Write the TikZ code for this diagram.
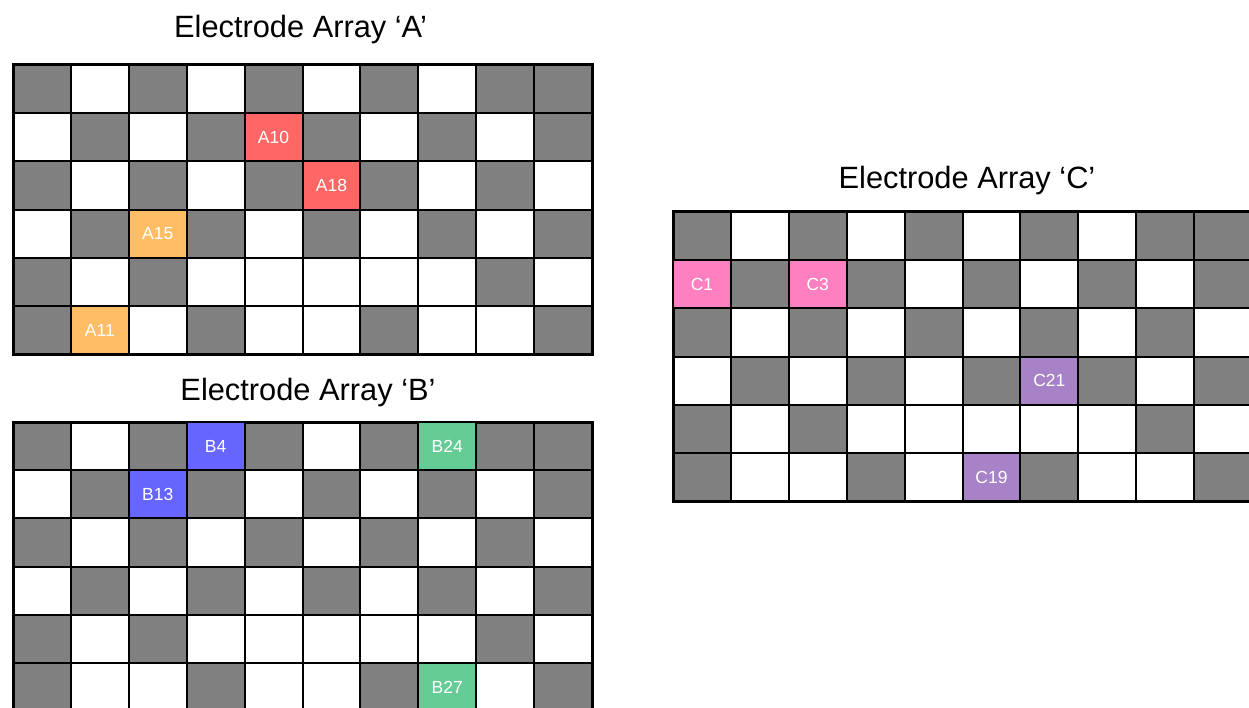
\documentclass[tikz,border=0pt]{standalone}
\usepackage{fontspec}
\setmainfont{Liberation Sans}
\usepackage{xcolor}
\usetikzlibrary{math}
\definecolor{G}{RGB}{128,128,128}
\definecolor{W}{RGB}{255,255,255}
\definecolor{myred}{RGB}{255,102,102}
\definecolor{myorange}{RGB}{255,190,102}
\definecolor{myblue}{RGB}{102,102,255}
\definecolor{mygreen}{RGB}{102,204,150}
\definecolor{mypink}{RGB}{255,128,192}
\definecolor{mypurple}{RGB}{168,130,198}

\tikzset{
  title/.style={anchor=base, font=\fontsize{30.8}{30.8}\selectfont},
  cell/.style={draw, line width=2pt, inner sep=0pt, minimum width=\cw pt, minimum height=\ch pt, text=white, font=\fontsize{17.5}{17.5}\selectfont},
}

\begin{document}
\begin{tikzpicture}[x=1pt, y=-1pt]
\tikzmath{
\cw=57.9;
\ch=48.2;
\ax=13; \ay=65;
\bx=13; \by=422;
\cx=673; \cy=212;
}
\useasboundingbox (0,0) rectangle (1249,708);
\clip (0,0) rectangle (1249,708);

\node[title] (tA) at (300.5,38) {Electrode Array ‘A’};
\node[title] (tB) at (308,400) {Electrode Array ‘B’};
\node[title] (tC) at (967,189) {Electrode Array ‘C’};

% array A
\foreach \row [count=\nr] in {{G,W,G,W,G,W,G,W,G,G},{W,G,W,G,W,G,W,G,W,G},{G,W,G,W,G,W,G,W,G,W},{W,G,W,G,W,G,W,G,W,G},{G,W,G,W,W,W,W,W,G,W},{G,W,W,G,W,W,G,W,W,G}}
  \foreach \cel [count=\nc] in \row
    \draw[line width=2pt, fill=\cel] ({\ax+(\nc-1)*\cw},{\ay+(\nr-1)*\ch}) rectangle ++(\cw,\ch);
\draw[line width=3pt] (\ax,\ay) rectangle ++(10*\cw,6*\ch);

\node[cell, fill=myred] (A10) at ({\ax+4.5*\cw},{\ay+1.5*\ch}) {A10};
\node[cell, fill=myred] (A18) at ({\ax+5.5*\cw},{\ay+2.5*\ch}) {A18};
\node[cell, fill=myorange] (A15) at ({\ax+2.5*\cw},{\ay+3.5*\ch}) {A15};
\node[cell, fill=myorange] (A11) at ({\ax+1.5*\cw},{\ay+5.5*\ch}) {A11};

% array B
\foreach \row [count=\nr] in {{G,W,G,W,G,W,G,W,G,G},{W,G,W,G,W,G,W,G,W,G},{G,W,G,W,G,W,G,W,G,W},{W,G,W,G,W,G,W,G,W,G},{G,W,G,W,W,W,W,W,G,W},{G,W,W,G,W,W,G,W,W,G}}
  \foreach \cel [count=\nc] in \row
    \draw[line width=2pt, fill=\cel] ({\bx+(\nc-1)*\cw},{\by+(\nr-1)*\ch}) rectangle ++(\cw,\ch);
\draw[line width=3pt] (\bx,\by) rectangle ++(10*\cw,6*\ch);

\node[cell, fill=myblue] (B4) at ({\bx+3.5*\cw},{\by+0.5*\ch}) {B4};
\node[cell, fill=mygreen] (B24) at ({\bx+7.5*\cw},{\by+0.5*\ch}) {B24};
\node[cell, fill=myblue] (B13) at ({\bx+2.5*\cw},{\by+1.5*\ch}) {B13};
\node[cell, fill=mygreen] (B27) at ({\bx+7.5*\cw},{\by+5.5*\ch}) {B27};

% array C
\foreach \row [count=\nr] in {{G,W,G,W,G,W,G,W,G,G},{W,G,W,G,W,G,W,G,W,G},{G,W,G,W,G,W,G,W,G,W},{W,G,W,G,W,G,W,G,W,G},{G,W,G,W,W,W,W,W,G,W},{G,W,W,G,W,W,G,W,W,G}}
  \foreach \cel [count=\nc] in \row
    \draw[line width=2pt, fill=\cel] ({\cx+(\nc-1)*\cw},{\cy+(\nr-1)*\ch}) rectangle ++(\cw,\ch);
\draw[line width=3pt] (\cx,\cy) rectangle ++(10*\cw,6*\ch);

\node[cell, fill=mypink] (C1) at ({\cx+0.5*\cw},{\cy+1.5*\ch}) {C1};
\node[cell, fill=mypink] (C3) at ({\cx+2.5*\cw},{\cy+1.5*\ch}) {C3};
\node[cell, fill=mypurple] (C21) at ({\cx+6.5*\cw},{\cy+3.5*\ch}) {C21};
\node[cell, fill=mypurple] (C19) at ({\cx+5.5*\cw},{\cy+5.5*\ch}) {C19};

\end{tikzpicture}
\end{document}
